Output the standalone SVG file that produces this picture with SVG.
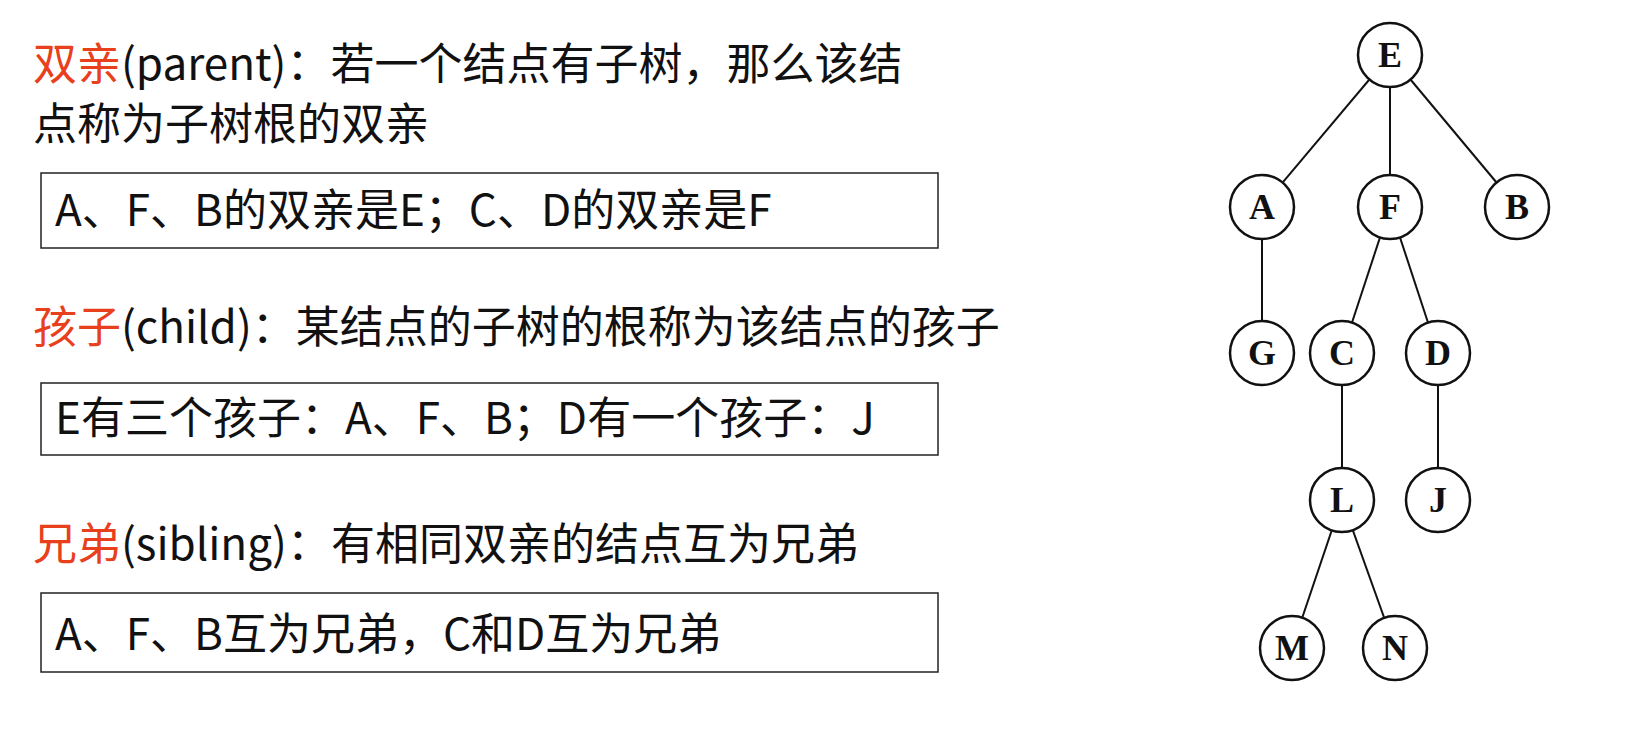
<svg xmlns="http://www.w3.org/2000/svg" width="1639" height="736" viewBox="0 0 1639 736">
<style>
.t{font-family:"Noto Sans CJK SC","Noto Sans",sans-serif;font-size:44px;fill:#111}
.r{fill:#e8401c}
.box{fill:none;stroke:#222;stroke-width:1.5}
.n circle{fill:#fff;stroke:#111;stroke-width:2.5}
.n text{font-family:"Liberation Serif",serif;font-weight:bold;font-size:36px;text-anchor:middle;fill:#111}
.c line{stroke:#111;stroke-width:2}
</style>
<rect width="1639" height="736" fill="#fff"/>
<text class="t" x="33" y="80"><tspan class="r">双亲</tspan>(parent)：若一个结点有子树，那么该结</text>
<text class="t" x="33" y="140">点称为子树根的双亲</text>
<rect class="box" x="41" y="173" width="897" height="75"/>
<text class="t" x="55" y="226">A、F、B的双亲是E；C、D的双亲是F</text>
<text class="t" x="33" y="343"><tspan class="r">孩子</tspan>(child)：某结点的子树的根称为该结点的孩子</text>
<rect class="box" x="41" y="383" width="897" height="72"/>
<text class="t" x="55" y="434">E有三个孩子：A、F、B；D有一个孩子：J</text>
<text class="t" x="33" y="560"><tspan class="r">兄弟</tspan>(sibling)：有相同双亲的结点互为兄弟</text>
<rect class="box" x="41" y="593" width="897" height="79"/>
<text class="t" x="55" y="650">A、F、B互为兄弟，C和D互为兄弟</text>
<g class="c" id="connectors">
<line x1="1390" y1="55" x2="1262" y2="207"/><line x1="1390" y1="55" x2="1390" y2="207"/><line x1="1390" y1="55" x2="1517" y2="207"/>
<line x1="1262" y1="207" x2="1262" y2="353"/><line x1="1390" y1="207" x2="1342" y2="353"/><line x1="1390" y1="207" x2="1438" y2="353"/>
<line x1="1342" y1="353" x2="1342" y2="500"/><line x1="1438" y1="353" x2="1438" y2="500"/>
<line x1="1342" y1="500" x2="1292" y2="648"/><line x1="1342" y1="500" x2="1395" y2="648"/>
</g>
<g class="n" id="E"><circle cx="1390" cy="55" r="32"/><text x="1390" y="67">E</text></g>
<g class="n" id="A"><circle cx="1262" cy="207" r="32"/><text x="1262" y="219">A</text></g>
<g class="n" id="F"><circle cx="1390" cy="207" r="32"/><text x="1390" y="219">F</text></g>
<g class="n" id="B"><circle cx="1517" cy="207" r="32"/><text x="1517" y="219">B</text></g>
<g class="n" id="G"><circle cx="1262" cy="353" r="32"/><text x="1262" y="365">G</text></g>
<g class="n" id="C"><circle cx="1342" cy="353" r="32"/><text x="1342" y="365">C</text></g>
<g class="n" id="D"><circle cx="1438" cy="353" r="32"/><text x="1438" y="365">D</text></g>
<g class="n" id="L"><circle cx="1342" cy="500" r="32"/><text x="1342" y="512">L</text></g>
<g class="n" id="J"><circle cx="1438" cy="500" r="32"/><text x="1438" y="512">J</text></g>
<g class="n" id="M"><circle cx="1292" cy="648" r="32"/><text x="1292" y="660">M</text></g>
<g class="n" id="N"><circle cx="1395" cy="648" r="32"/><text x="1395" y="660">N</text></g>
</svg>
